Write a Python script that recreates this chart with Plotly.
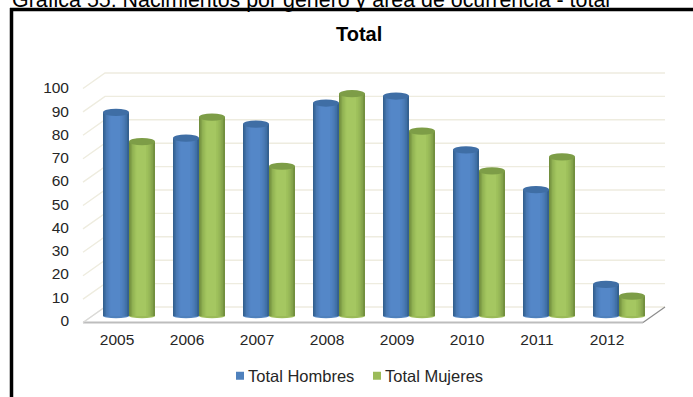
import plotly.graph_objects as go

years = ["2005", "2006", "2007", "2008", "2009", "2010", "2011", "2012"]
hombres = [87, 76, 82, 91, 94, 71, 54, 13.5]
mujeres = [74.5, 85, 64, 95, 79, 62, 68, 8.5]
y_ticks = list(range(0, 101, 10))

W, H = 693, 397
FONT = "Liberation Sans"
TXT = "#262626"

# pixel calibration of the axes
x0_px, x_step = 117, 70
def xr(p): return (p - x0_px) / x_step
def yrange(zero_px, per_unit): return [(zero_px - H) / per_unit, zero_px / per_unit]

label_axis = yrange(320.5, 2.325)
bar_axis = yrange(316, 2.34)
wall_axis = yrange(307, 2.34)
depth_dx, depth_dy = 22, 15.5
wall_right_px, front_left_px = 665, 83
bar_shift = 12 / x_step
bar_w = 26 / x_step

fig = go.Figure()

# back wall / side wall grid lines (lowest subplot)
gx, gy = [], []
for v in y_ticks:
    gx += [xr(front_left_px), xr(front_left_px + depth_dx), xr(wall_right_px), None]
    gy += [v - depth_dy / 2.34, v, v, None]
fig.add_trace(go.Scatter(x=gx, y=gy, mode="lines", yaxis="y", showlegend=False, hoverinfo="skip",
                         line=dict(color="#eeecdf", width=1.4)))
# floor outline
fl = -depth_dy / 2.34
fig.add_trace(go.Scatter(x=[xr(front_left_px), xr(643)], y=[fl, fl], mode="lines", yaxis="y", showlegend=False,
                         hoverinfo="skip", line=dict(color="#bdbdbd", width=2)))
fig.add_trace(go.Scatter(x=[xr(643), xr(wall_right_px)], y=[fl, 0], mode="lines", yaxis="y", showlegend=False,
                         hoverinfo="skip", line=dict(color="#8c8c8c", width=1.2)))
fig.add_trace(go.Scatter(x=[xr(front_left_px), xr(front_left_px + depth_dx)], y=[fl, 0], mode="lines", yaxis="y",
                         showlegend=False, hoverinfo="skip", line=dict(color="#d9d9d9", width=1.2)))
# value-axis labels need a trace on their axis to be built
fig.add_trace(go.Scatter(x=[0] * len(y_ticks), y=y_ticks, mode="markers", yaxis="y2", showlegend=False,
                         hoverinfo="skip", marker=dict(opacity=0, size=1)))

series = [
    ("Total Hombres", hombres, -bar_w / 2, "#4f81bd", "#3f6ea5",
     ["#34608f", "#3f6fa5", "#4878b2", "#4d7fbc", "#5083c3", "#5487c8"]),
    ("Total Mujeres", mujeres, bar_w / 2, "#9bbb59", "#7d9d47",
     ["#728f3e", "#83a24a", "#90b052", "#99ba58", "#9fc15c", "#a5c761"]),
]
shapes = []
xs = list(range(len(years)))
for name, vals, off, col, top, ramp in series:
    # cylinder shading as nested bars, tightening towards the highlight
    hl = -0.05 * bar_w
    n = len(ramp)
    for k, c in enumerate(ramp):
        t = k / n
        L = -bar_w / 2 + t * (hl + bar_w / 2) * 0.75
        R = bar_w / 2 - t * (bar_w / 2 - hl) * 0.75
        fig.add_trace(go.Bar(x=[i + bar_shift + off + (L + R) / 2 for i in xs], y=vals, width=R - L,
                             yaxis="y3", marker=dict(color=c, line=dict(width=0)), name=name,
                             showlegend=False, hovertemplate=name + ": %{y}<extra></extra>"))
    fig.add_trace(go.Scatter(x=[None], y=[None], mode="markers", name=name, yaxis="y3",
                             marker=dict(symbol="square", size=8, color=col)))
    for i, v in zip(xs, vals):
        cx = i + bar_shift + off
        shapes.append(dict(type="circle", xref="x", yref="y3", layer="above", line=dict(width=0), fillcolor=top,
                           x0=cx - bar_w / 2, x1=cx + bar_w / 2, y0=v - 3.6 / 2.34, y1=v + 3.6 / 2.34))
        shapes.append(dict(type="circle", xref="x", yref="y3", layer="below", line=dict(width=0), fillcolor=col,
                           x0=cx - bar_w / 2, x1=cx + bar_w / 2, y0=-2.2 / 2.34, y1=2.2 / 2.34))

# frame: top and left rules only
shapes.append(dict(type="line", xref="paper", yref="paper", x0=10 / W, x1=1, y0=1 - 9.5 / H, y1=1 - 9.5 / H,
                   line=dict(color="black", width=3.5)))
shapes.append(dict(type="line", xref="paper", yref="paper", x0=11.5 / W, x1=11.5 / W, y0=0, y1=1 - 8 / H,
                   line=dict(color="black", width=3.5)))

fig.update_layout(
    width=W, height=H, margin=dict(l=0, r=0, t=0, b=0, pad=0),
    paper_bgcolor="white", plot_bgcolor="rgba(0,0,0,0)",
    barmode="overlay", shapes=shapes, hovermode="closest",
    font=dict(family=FONT, color=TXT, size=15),
    xaxis=dict(range=[xr(0), xr(W)], domain=[0, 1], tickmode="array", tickvals=xs, ticktext=years,
               showgrid=False, zeroline=False, showline=False, ticks="", anchor="free", position=1 - 328 / H,
               tickfont=dict(size=15.5, color=TXT, family=FONT)),
    yaxis=dict(range=wall_axis, domain=[0, 1], visible=False, showgrid=False, zeroline=False),
    yaxis2=dict(range=label_axis, domain=[0, 1], overlaying="y", tickmode="array", tickvals=y_ticks, showgrid=False,
                zeroline=False, showline=False, ticks="", anchor="free", position=69 / W,
                tickfont=dict(size=15.5, color=TXT, family=FONT)),
    yaxis3=dict(range=bar_axis, domain=[0, 1], overlaying="y", visible=False, showgrid=False, zeroline=False),
    legend=dict(orientation="h", x=223 / W, y=1 - 376 / H, xanchor="left", yanchor="middle", indentation=-15,
                entrywidth=107, entrywidthmode="pixels", font=dict(size=16.5, color=TXT, family=FONT),
                bgcolor="rgba(0,0,0,0)", itemclick=False, itemdoubleclick=False),
    annotations=[
        dict(text="<b>Total</b>", xref="paper", yref="paper", x=359 / W, y=1 - 34 / H, showarrow=False,
             xanchor="center", yanchor="middle", font=dict(size=20, color="black", family=FONT)),
        dict(text="Gráfica 55: Nacimientos por género y área de ocurrencia - total", xref="paper", yref="paper",
             x=10 / W, y=1 - 0 / H, showarrow=False, xanchor="left", yanchor="middle",
             font=dict(size=21.4, color="black", family=FONT)),
    ],
)
post = """document.body.style.margin='0';
document.querySelectorAll('.legendsymbols').forEach(function(el){
  el.setAttribute('transform', (el.getAttribute('transform')||'') + ' translate(12,0)');
});"""
fig.write_html("out.html", post_script=post, config=dict(displayModeBar=False))
